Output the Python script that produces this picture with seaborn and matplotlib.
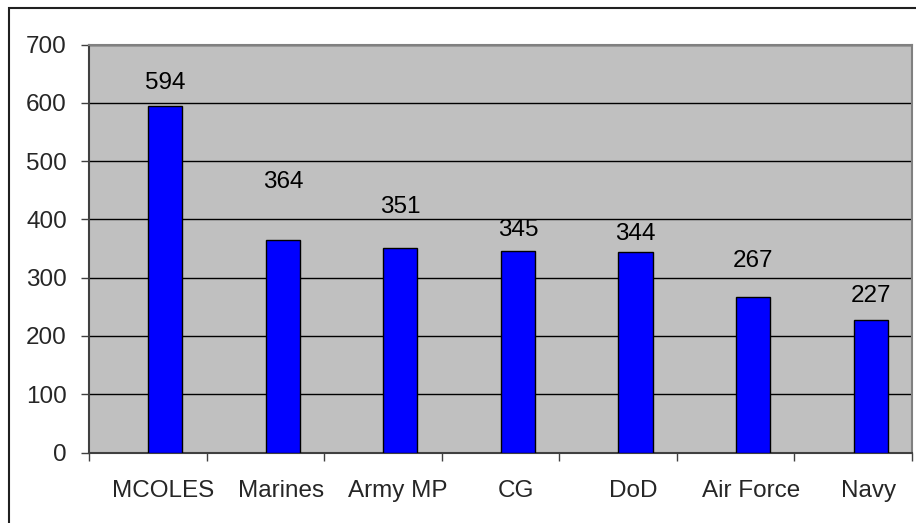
import numpy as np
import matplotlib.pyplot as plt
import seaborn as sns
from matplotlib.patches import Rectangle

# scores per agency
agencies = ['MCOLES', 'Marines', 'Army MP', 'CG', 'DoD', 'Air Force', 'Navy']
scores = [594, 364, 351, 345, 344, 267, 227]
yticks = [0, 100, 200, 300, 400, 500, 600, 700]

# how far (px) each value label sits above its bar, as in the source
label_lift = [23, 58, 41, 21, 18, 36, 24]
bar_shift = 0.15   # bars sit a bit right of the category centre
fs = 17.5

sns.set_style('white')
plt.rcParams['font.family'] = ['Liberation Sans', 'DejaVu Sans']

fig = plt.figure(figsize=(9.16, 5.23), dpi=100)
ax = fig.add_axes([89/916, 70.5/523, (911.7-89)/916, (452.5-44.5)/523])
ax.set_facecolor('#C0C0C0')

sns.barplot(x=agencies, y=scores, color='#0000FF', saturation=1, width=0.29,
            edgecolor='black', linewidth=1, ax=ax, zorder=3)
for p in ax.patches:
    p.set_x(p.get_x() + bar_shift)

ax.set_ylim(0, 700)
ax.set_xlim(-0.5, len(agencies)-0.5)
ax.set_yticks(yticks)
ax.yaxis.grid(True, color='black', linewidth=1)
ax.set_axisbelow(True)

# ticks between categories, labels under the bars
ax.set_xticks(np.arange(-0.5, len(agencies)), labels=['']*(len(agencies)+1))
ax.set_xticks(np.arange(len(agencies)) + 0.13, labels=agencies, minor=True)
ax.tick_params(axis='x', which='major', direction='out', length=6, width=1,
               color='#404040', bottom=True)
ax.tick_params(axis='x', which='minor', length=0, pad=20, labelsize=fs)
ax.tick_params(axis='y', direction='out', length=6, width=1, color='#404040',
               left=True, pad=10, labelsize=fs)

for side in ['top', 'right']:
    ax.spines[side].set_color('#808080')
    ax.spines[side].set_linewidth(1.5)
for side in ['left', 'bottom']:
    ax.spines[side].set_color('#404040')
    ax.spines[side].set_linewidth(1.5)
ax.set_xlabel('')
ax.set_ylabel('')

for i, v in enumerate(scores):
    ax.annotate(str(v), (i + bar_shift, v), xytext=(0, label_lift[i]*0.72),
                textcoords='offset points', ha='center', va='center',
                fontsize=fs, color='black')

# outer chart border (runs off the right and bottom edges)
fig.patches.append(Rectangle((9/916, -0.05), 1.1, (523-8)/523+0.05,
                             transform=fig.transFigure, fill=False,
                             edgecolor='#202020', linewidth=1.5))

fig.savefig('out.png', dpi=100)
